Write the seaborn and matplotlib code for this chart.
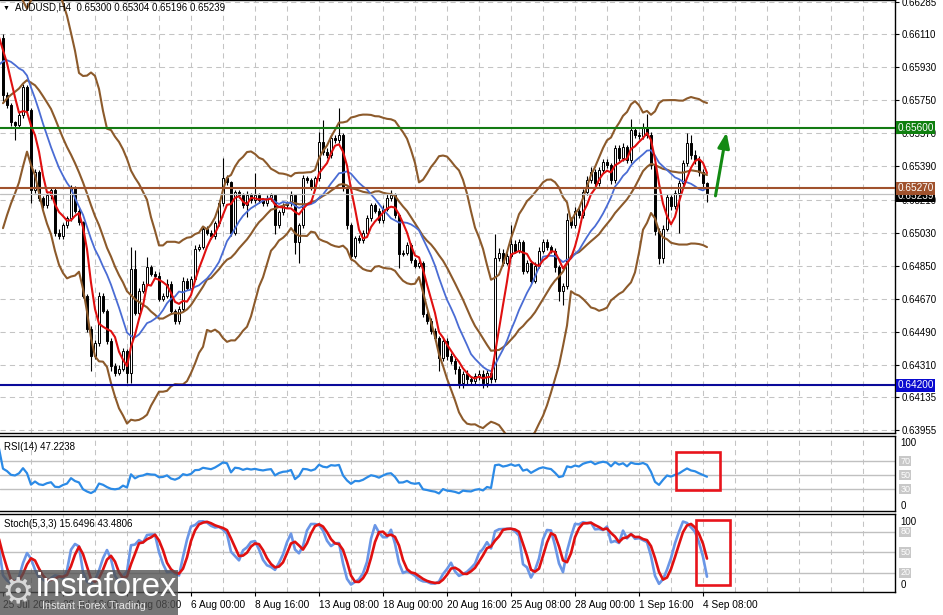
import numpy as np
import pandas as pd
import matplotlib
matplotlib.use("Agg")
import matplotlib.pyplot as plt
import matplotlib.transforms as mtransforms
from matplotlib.patches import Rectangle
import seaborn as sns

sns.set_style("white", {"axes.edgecolor": "black", "text.color": "black",
                        "xtick.color": "black", "ytick.color": "black"})
plt.rcParams["font.family"] = ["Liberation Sans", "DejaVu Sans"]

# ---------------- data ----------------
title_text = "AUDUSD,H4  0.65300 0.65304 0.65196 0.65239"
rsi_title = "RSI(14) 47.2238"
stoch_title = "Stoch(5,3,3) 15.6496 43.4806"

# bars before the visible window (needed for indicator warm-up)
pre_close = [0.65205, 0.65232, 0.65287, 0.65314, 0.65287, 0.65320, 0.65532, 0.65641, 0.65751, 0.65832,
             0.65914, 0.65969, 0.66051, 0.66105, 0.66127, 0.66078, 0.66105, 0.66067, 0.66089]
pre_wick_hi = [15, 15, 15, 15, 15, 15, 15, 15, 15, 15, 15, 15, 15, 15, 15, 15, 15, 15, 15]
pre_wick_lo = [15, 15, 15, 15, 15, 15, 15, 15, 15, 15, 15, 15, 15, 15, 15, 15, 15, 15, 15]

# visible H4 closes (25 Jul -> 4 Sep)
close = [
    0.65778, 0.65723, 0.65630, 0.65614, 0.65669, 0.65821, 0.65696, 0.65260, 0.65358, 0.65216,
    0.65178, 0.65232, 0.65260, 0.65030, 0.65009, 0.65069, 0.65107, 0.65270, 0.65150, 0.65085,
    0.64687, 0.64507, 0.64359, 0.64430, 0.64687, 0.64605, 0.64441, 0.64305, 0.64267, 0.64289,
    0.64387, 0.64267, 0.64834, 0.64594, 0.64714, 0.64752, 0.64840, 0.64807, 0.64796, 0.64670,
    0.64687, 0.64752, 0.64605, 0.64550, 0.64616, 0.64769, 0.64730, 0.64780, 0.64943, 0.64954,
    0.65052, 0.65030, 0.65009, 0.65080, 0.65189, 0.65325, 0.65303, 0.65030, 0.65249, 0.65232,
    0.65178, 0.65232, 0.65205, 0.65232, 0.65205, 0.65189, 0.65216, 0.65232, 0.65069, 0.65140,
    0.65178, 0.65189, 0.65232, 0.64976, 0.65069, 0.65325, 0.65314, 0.65276, 0.65325, 0.65521,
    0.65467, 0.65450, 0.65543, 0.65532, 0.65560, 0.65270, 0.65069, 0.64905, 0.64998, 0.64987,
    0.65030, 0.65107, 0.65178, 0.65150, 0.65096, 0.65161, 0.65216, 0.65232, 0.65123, 0.64916,
    0.64921, 0.64960, 0.64878, 0.64850, 0.64867, 0.64589, 0.64550, 0.64496, 0.64458, 0.64349,
    0.64441, 0.64359, 0.64332, 0.64289, 0.64212, 0.64261, 0.64234, 0.64223, 0.64250, 0.64261,
    0.64212, 0.64267, 0.64234, 0.64889, 0.64921, 0.64867, 0.64905, 0.64970, 0.64932, 0.64976,
    0.64823, 0.64867, 0.64769, 0.64850, 0.64932, 0.64976, 0.64949, 0.64932, 0.64840, 0.64714,
    0.64741, 0.65096, 0.65069, 0.65150, 0.65123, 0.65249, 0.65314, 0.65358, 0.65298, 0.65369,
    0.65412, 0.65396, 0.65314, 0.65489, 0.65434, 0.65494, 0.65423, 0.65587, 0.65560, 0.65554,
    0.65598, 0.65560, 0.65396, 0.65041, 0.64889, 0.65052, 0.65221, 0.65172, 0.65243, 0.65298,
    0.65407, 0.65516, 0.65450, 0.65423, 0.65358, 0.65300, 0.65239]

# wick lengths above / below the body, in points (0.00001)
wick_hi = [
    20, 15, 15, 10, 15, 20, 15, 10, 20, 15,
    15, 15, 15, 15, 20, 15, 15, 20, 15, 15,
    10, 10, 15, 15, 20, 15, 10, 15, 15, 20,
    15, 10, 115, 100, 15, 15, 55, 15, 15, 20,
    15, 25, 15, 10, 15, 20, 15, 15, 20, 15,
    15, 15, 15, 15, 20, 110, 20, 10, 15, 15,
    15, 25, 15, 125, 15, 15, 20, 15, 10, 15,
    15, 15, 25, 10, 15, 20, 15, 15, 15, 55,
    120, 25, 20, 20, 150, 10, 10, 15, 15, 20,
    15, 20, 15, 15, 15, 20, 25, 30, 15, 10,
    15, 20, 15, 15, 15, 10, 15, 15, 15, 10,
    15, 15, 15, 15, 15, 15, 20, 15, 15, 20,
    20, 15, 15, 135, 25, 20, 15, 100, 20, 20,
    15, 15, 15, 20, 20, 20, 20, 15, 15, 15,
    15, 40, 20, 20, 25, 20, 25, 30, 20, 20,
    20, 20, 15, 20, 15, 25, 15, 60, 20, 20,
    30, 80, 15, 10, 15, 20, 20, 15, 20, 20,
    20, 55, 45, 30, 25, 20, 4]
wick_lo = [
    30, 15, 20, 80, 15, 15, 15, 70, 15, 15,
    15, 15, 20, 20, 15, 15, 15, 15, 15, 15,
    15, 20, 80, 15, 15, 15, 15, 30, 20, 15,
    15, 55, 55, 15, 15, 15, 15, 15, 15, 15,
    15, 15, 20, 20, 15, 15, 15, 15, 15, 15,
    15, 15, 15, 15, 15, 15, 15, 20, 15, 15,
    15, 65, 15, 15, 15, 15, 15, 15, 45, 15,
    15, 15, 15, 60, 110, 15, 15, 15, 15, 15,
    15, 15, 15, 15, 15, 15, 20, 25, 15, 15,
    15, 15, 15, 15, 15, 15, 15, 15, 15, 80,
    15, 15, 15, 15, 15, 20, 20, 20, 20, 70,
    20, 20, 20, 30, 30, 30, 30, 20, 25, 25,
    30, 25, 25, 20, 15, 20, 15, 15, 15, 15,
    20, 15, 20, 15, 15, 15, 15, 15, 25, 55,
    80, 20, 15, 15, 15, 15, 15, 15, 15, 15,
    15, 15, 20, 15, 15, 15, 15, 15, 15, 15,
    15, 15, 20, 25, 30, 25, 15, 20, 15, 215,
    15, 15, 20, 20, 20, 20, 43]

price_ticks = [0.66285, 0.66110, 0.65930, 0.65750, 0.65570, 0.65390, 0.65210,
               0.65030, 0.64850, 0.64670, 0.64490, 0.64310, 0.64135, 0.63955]
level_green = 0.65600
level_brown = 0.65270
level_blue = 0.64200
bid_price = 0.65239

time_labels = ["25 Jul 2025", "29 Jul 16:00", "1 Aug 08:00", "6 Aug 00:00", "8 Aug 16:00",
               "13 Aug 08:00", "18 Aug 00:00", "20 Aug 16:00", "25 Aug 08:00",
               "28 Aug 00:00", "1 Sep 16:00", "4 Sep 08:00"]
time_label_bars = [0, 15, 31, 47, 63, 79, 95, 111, 127, 143, 159, 175]

rsi_levels = [70, 50, 30]
stoch_levels = [80, 50, 20]

# ---------------- indicators ----------------
c_all = np.array(pre_close + close)
o_all = np.r_[c_all[0], c_all[:-1]]
h_all = np.maximum(o_all, c_all) + np.array(pre_wick_hi + wick_hi) * 1e-5
l_all = np.minimum(o_all, c_all) - np.array(pre_wick_lo + wick_lo) * 1e-5
bars = np.arange(len(c_all)) - len(pre_close)
df = pd.DataFrame({"bar": bars, "open": o_all, "high": h_all, "low": l_all, "close": c_all})

df["ma_fast"] = df["close"].rolling(5).mean()
df["ma_slow"] = df["close"].rolling(13).mean()
mid = df["close"].rolling(20).mean()
sd = df["close"].rolling(20).std(ddof=0)
df["bb_mid"], df["bb_up"], df["bb_lo"] = mid, mid + 2 * sd, mid - 2 * sd

delta = df["close"].diff()
up = delta.clip(lower=0).ewm(alpha=1 / 14, adjust=False).mean()
dn = (-delta.clip(upper=0)).ewm(alpha=1 / 14, adjust=False).mean()
df["rsi"] = 100 - 100 / (1 + up / dn)

ll = df["low"].rolling(5).min()
hh = df["high"].rolling(5).max()
df["st_k"] = (df["close"] - ll).rolling(3).sum() / (hh - ll).rolling(3).sum() * 100
df["st_d"] = df["st_k"].rolling(3).mean()

vis = df[df["bar"] >= 0]

# ---------------- figure ----------------
W, H = 943, 615
fig = plt.figure(figsize=(W / 100, H / 100), dpi=100)
fig.patch.set_facecolor("white")


def ax_px(top, bottom):
    return [0, 1 - bottom / H, 895 / W, (bottom - top) / H]


ax = fig.add_axes(ax_px(0, 433))
ax_r = fig.add_axes(ax_px(436, 511), sharex=ax)
ax_s = fig.add_axes(ax_px(514, 592), sharex=ax)

XMIN, XMAX = -0.75, 223.0
grid_bars = np.arange(7, 224, 8)
grid_kw = dict(color="#c4c4c4", lw=0.75, ls=(0, (5, 4)), zorder=0)

BROWN = "#8c5a2b"
# main chart
for gb in grid_bars:
    ax.axvline(gb, **grid_kw)
for pt in price_ticks:
    ax.axhline(pt, **grid_kw)

ax.vlines(vis["bar"], vis["low"], vis["high"], color="black", lw=0.8, zorder=2)
bull = vis["close"] >= vis["open"]
body_h = (vis["close"] - vis["open"]).abs().clip(lower=0.000012)
body_b = np.minimum(vis["open"], vis["close"])
ax.bar(vis["bar"][bull], body_h[bull], bottom=body_b[bull], width=0.7,
       color="white", edgecolor="black", lw=0.7, zorder=3)
ax.bar(vis["bar"][~bull], body_h[~bull], bottom=body_b[~bull], width=0.7,
       color="black", edgecolor="black", lw=0.7, zorder=3)

for col in ["bb_up", "bb_mid", "bb_lo"]:
    sns.lineplot(x=df["bar"], y=df[col], ax=ax, color=BROWN, lw=1.5, zorder=4)
sns.lineplot(x=df["bar"], y=df["ma_slow"], ax=ax, color="#4a6cd4", lw=1.3, zorder=5)
sns.lineplot(x=df["bar"], y=df["ma_fast"], ax=ax, color="#e01010", lw=1.5, zorder=6)

ax.axhline(bid_price, color="#c0c0c0", lw=0.9, zorder=6)
ax.axhline(level_brown, color="#a0522d", lw=1.5, zorder=7)
ax.axhline(level_green, color="#137a13", lw=1.5, zorder=7)
ax.axhline(level_blue, color="#0a0a9a", lw=1.5, zorder=7)

ax.annotate("", xy=(181.0, 0.65590), xytext=(178.0, 0.65215),
            arrowprops=dict(arrowstyle="-|>,head_length=0.9,head_width=0.35",
                            color="#138a13", lw=2.2), zorder=8)

ax.set_xlim(XMIN, XMAX)
ax.set_ylim(0.63939, 0.66296)
ax.yaxis.tick_right()
ax.set_yticks(price_ticks, [f"{v:.5f}" for v in price_ticks])
ax.tick_params(axis="y", right=True, left=False, length=3, width=0.8, pad=2,
               labelsize=7, colors="black")
ax.tick_params(axis="x", bottom=False, labelbottom=False)
ax.set_xlabel("")
ax.set_ylabel("")

lbl_kw = dict(transform=mtransforms.blended_transform_factory(ax.transAxes, ax.transData),
              fontsize=7.2, va="center", ha="left", clip_on=False, zorder=10)
ax.text(1.0025, bid_price - 0.00008, f"{bid_price:.5f}", color="white",
        bbox=dict(boxstyle="square,pad=0.15", fc="black", ec="none"), **lbl_kw)
ax.text(1.0025, level_brown, f"{level_brown:.5f}", color="white",
        bbox=dict(boxstyle="square,pad=0.15", fc="#a0522d", ec="none"), **lbl_kw)
ax.text(1.0025, level_green, f"{level_green:.5f}", color="white",
        bbox=dict(boxstyle="square,pad=0.15", fc="#0f7f0f", ec="none"), **lbl_kw)
ax.text(1.0025, level_blue, f"{level_blue:.5f}", color="white",
        bbox=dict(boxstyle="square,pad=0.15", fc="#0a0ad0", ec="none"), **lbl_kw)

ax.spines["left"].set_visible(False)
for sp in ["top", "right", "bottom"]:
    ax.spines[sp].set_color("black")
    ax.spines[sp].set_linewidth(1.0)

fig.text(3 / W, 1 - 8 / H, "\u25bc", fontsize=5, va="center", ha="left")
fig.text(15 / W, 1 - 8 / H, title_text, fontsize=7, va="center", ha="left")


# sub panels
def style_sub(a, ylim):
    for gb in grid_bars:
        a.axvline(gb, **grid_kw)
    a.set_ylim(*ylim)
    a.set_yticks([])
    a.set_xlabel("")
    a.set_ylabel("")
    a.spines["left"].set_visible(False)
    for sp in ["top", "right", "bottom"]:
        a.spines[sp].set_color("black")
        a.spines[sp].set_linewidth(1.0)


# RSI
for lv in rsi_levels:
    ax_r.axhline(lv, color="#c0c0c0", lw=1.0, zorder=1)
sns.lineplot(x=df["bar"], y=df["rsi"], ax=ax_r, color="#2b8ae6", lw=1.6, zorder=3)
style_sub(ax_r, (-1.4, 105.7))
ax_r.tick_params(axis="x", bottom=False, labelbottom=False)
ax_r.text(0.004, 0.86, rsi_title, transform=ax_r.transAxes, fontsize=7, va="center", ha="left")
rt = mtransforms.blended_transform_factory(ax_r.transAxes, ax_r.transData)
ax_r.text(1.006, 96, "100", transform=rt, fontsize=7, va="center", ha="left", clip_on=False)
ax_r.text(1.006, 6, "0", transform=rt, fontsize=7, va="center", ha="left", clip_on=False)
for lv in rsi_levels:
    ax_r.text(1.006, lv, str(lv), transform=rt, fontsize=6.5, va="center", ha="left",
              color="white", clip_on=False,
              bbox=dict(boxstyle="square,pad=0.1", fc="#c8c8c8", ec="none"))
ax_r.add_patch(Rectangle((168.3, 28.6), 11.0, 54.3, fill=False, ec="#e8141c", lw=1.9, zorder=6))

# Stochastic
for lv in stoch_levels:
    ax_s.axhline(lv, color="#c0c0c0", lw=1.0, zorder=1)
sns.lineplot(x=df["bar"], y=df["st_k"], ax=ax_s, color="#6a96e6", lw=1.9, zorder=3)
sns.lineplot(x=df["bar"], y=df["st_d"], ax=ax_s, color="#e01010", lw=1.9, zorder=4)
style_sub(ax_s, (-7.8, 106.3))
ax_s.text(0.004, 0.87, stoch_title, transform=ax_s.transAxes, fontsize=7, va="center", ha="left")
st = mtransforms.blended_transform_factory(ax_s.transAxes, ax_s.transData)
ax_s.text(1.006, 95, "100", transform=st, fontsize=7, va="center", ha="left", clip_on=False)
ax_s.text(1.006, 2, "0", transform=st, fontsize=7, va="center", ha="left", clip_on=False)
for lv in stoch_levels:
    ax_s.text(1.006, lv, str(lv), transform=st, fontsize=6.5, va="center", ha="left",
              color="white", clip_on=False,
              bbox=dict(boxstyle="square,pad=0.1", fc="#c8c8c8", ec="none"))
ax_s.add_patch(Rectangle((173.3, 2.5), 8.5, 95.0, fill=False, ec="#e8141c", lw=1.9, zorder=6))

ax_s.set_xticks(time_label_bars, time_labels)
for t in ax_s.get_xticklabels():
    t.set_horizontalalignment("left")
ax_s.tick_params(axis="x", bottom=True, length=3, width=0.8, pad=3, labelsize=7.3,
                 colors="black")
ax_s.set_xlim(XMIN, XMAX)

# watermark logo
fig.patches.append(Rectangle((0, 0), 178 / W, 45 / H, transform=fig.transFigure,
                             fc="#505050", ec="none", alpha=0.78, zorder=20))
fig.text(2 / W, 1 - 592 / H, "\u2699", fontsize=26, color="#d8d8d8", va="center",
         ha="left", family=["DejaVu Sans"], zorder=21)
fig.text(36 / W, 1 - 587 / H, "instaforex", fontsize=23.5, color="white", va="center",
         ha="left", zorder=21)
fig.text(42 / W, 1 - 606 / H, "Instant Forex Trading", fontsize=7.8, color="#e6e6e6",
         va="center", ha="left", zorder=21)

fig.savefig("out.png", dpi=100, facecolor="white")
